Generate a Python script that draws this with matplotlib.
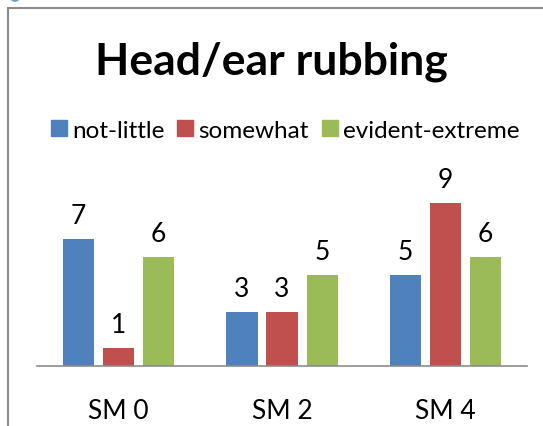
import numpy as np
import matplotlib
matplotlib.use('Agg')
import matplotlib.pyplot as plt
from matplotlib.patches import Rectangle, Patch, Circle

plt.rcParams['font.family'] = ['Lato', 'DejaVu Sans']

# Chart data
categories = ['SM 0', 'SM 2', 'SM 4']
series_names = ['not-little', 'somewhat', 'evident-extreme']
not_little = [7, 3, 5]
somewhat = [1, 3, 9]
evident_extreme = [6, 5, 6]
colors = ['#4F81BD', '#C0504D', '#9BBB59']

fig = plt.figure(figsize=(5.43, 4.27), dpi=100)

# outer chart frame (cut off at right/bottom like the screenshot)
frame = Rectangle((8 / 543, -0.1), 1.2, 1 - 9 / 427 + 0.1, transform=fig.transFigure,
                  fill=False, edgecolor='#8c8c8c', linewidth=1.5)
fig.patches.append(frame)
# selection handle peeking in at the top-left corner
fig.patches.append(Circle((15 / 543, 1 + 1 / 427), 4 / 543, transform=fig.transFigure,
                          color='#6f9ad6'))

ax = fig.add_axes([37 / 543, 1 - 367 / 427, 490 / 543, (367 - 149.3) / 427])

x = np.arange(len(categories))
width = 0.19
step = 0.245
series = [not_little, somewhat, evident_extreme]
for i, (vals, c) in enumerate(zip(series, colors)):
    pos = x + (i - 1) * step
    ax.bar(pos, vals, width, color=c)
    for p, v in zip(pos, vals):
        ax.text(p, v + 0.6, str(v), ha='center', va='bottom', fontsize=19)

ax.set_xlim(-0.5, 2.5)
ax.set_ylim(0, 12)
for s in ['top', 'right', 'left']:
    ax.spines[s].set_visible(False)
ax.spines['bottom'].set_color('#8c8c8c')
ax.spines['bottom'].set_linewidth(1.2)
ax.set_yticks([])
ax.set_xticks(x)
ax.set_xticklabels(categories, fontsize=19)
ax.tick_params(axis='x', length=0, pad=23)

fig.text(0.5, 1 - 62 / 427, 'Head/ear rubbing', ha='center', va='center',
         fontsize=32, fontweight='bold')

handles = [Patch(color=c) for c in colors]
fig.legend(handles, series_names, loc='center', bbox_to_anchor=(0.525, 1 - 131 / 427),
           ncol=3, frameon=False, fontsize=17.5, handlelength=0.65, handleheight=0.65,
           handletextpad=0.2, columnspacing=0.55, borderpad=0, borderaxespad=0)

fig.savefig('out.png', dpi=100)
